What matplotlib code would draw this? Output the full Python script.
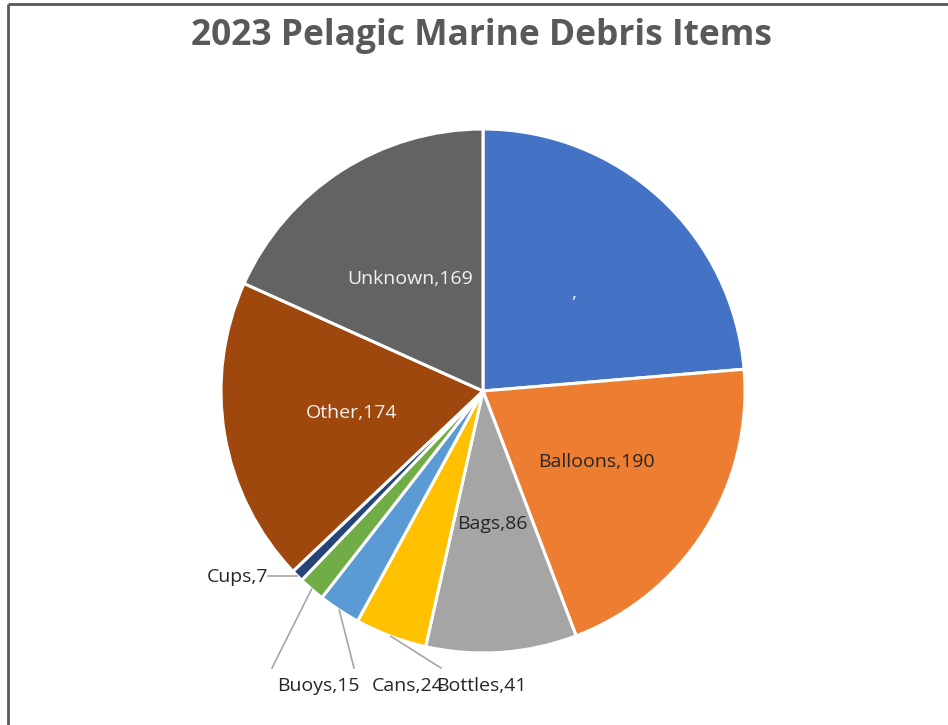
import numpy as np
import matplotlib
matplotlib.use("Agg")
import matplotlib.pyplot as plt

# pie data, clockwise from 12 o'clock
names = ["", "Balloons", "Bags", "Bottles", "Cans", "Buoys", "Cups", "Other", "Unknown"]
counts = [219, 190, 86, 41, 24, 15, 7, 174, 169]
shown = ["", "190", "86", "41", "24", "15", "7", "174", "169"]
colors = ["#4472C4", "#ED7D31", "#A5A5A5", "#FFC000", "#5B9BD5",
          "#70AD47", "#264478", "#9E480E", "#636363"]
inside_color = ["#F2F2F2", "#262626", "#262626", None, None, None, None, "#F2F2F2", "#F2F2F2"]

W, H = 948, 725
fig = plt.figure(figsize=(W / 100, H / 100), dpi=100)
ax = fig.add_axes([0, 0, 1, 1])
ax.set_aspect("equal")
ax.axis("off")

cx, cy, R = 483, H - 391, 262
wedges, _ = ax.pie(counts, colors=colors, startangle=90, counterclock=False,
                   center=(cx, cy), radius=R,
                   wedgeprops=dict(edgecolor="white", linewidth=2.2))
ax.set_xlim(0, W)
ax.set_ylim(0, H)

font = "Open Sans"
fs = 14
total = sum(counts)
mids = []
acc = 0
for c in counts:
    mids.append(np.deg2rad(90 - (acc + c / 2) / total * 360))
    acc += c

labels = [f"{n},{v}" for n, v in zip(names, shown)]

# labels inside the larger slices
for i, col in enumerate(inside_color):
    if col is None:
        continue
    r = 0.51 * R
    ax.text(cx + r * np.cos(mids[i]), cy + r * np.sin(mids[i]), labels[i],
            ha="center", va="center", fontsize=fs, color=col, family=font)

# small slices get leader lines
lc = "#A6A6A6"
def edge(i):
    return cx + R * np.cos(mids[i]), cy + R * np.sin(mids[i])

ex, ey = edge(6)
ax.plot([ex, 268], [ey, ey], color=lc, lw=1.2)
ax.text(268, ey - 1, labels[6], ha="right", va="center", fontsize=fs, family=font, color="#262626")

for i, (lx, ly) in zip([5, 4, 3], [(272, 668), (354, 668), (441, 668)]):
    ex, ey = edge(i)
    ax.plot([ex, lx], [ey, H - ly], color=lc, lw=1.2)
ax.text(277, H - 686, labels[5], ha="left", va="center", fontsize=fs, family=font, color="#262626")
ax.text(372, H - 686, labels[4], ha="left", va="center", fontsize=fs, family=font, color="#262626")
ax.text(436, H - 686, labels[3], ha="left", va="center", fontsize=fs, family=font, color="#262626")

ax.text(482, H - 36, "2023 Pelagic Marine Debris Items", ha="center", va="center",
        fontsize=25.5, fontweight="bold", color="#595959", family=font)

# chart-area frame (top and left edges)
ax.plot([8, W], [H - 4, H - 4], color="#595959", lw=2, solid_capstyle="butt")
ax.plot([8, 8], [0, H - 4], color="#595959", lw=2, solid_capstyle="butt")

fig.savefig("out.png", dpi=100)
